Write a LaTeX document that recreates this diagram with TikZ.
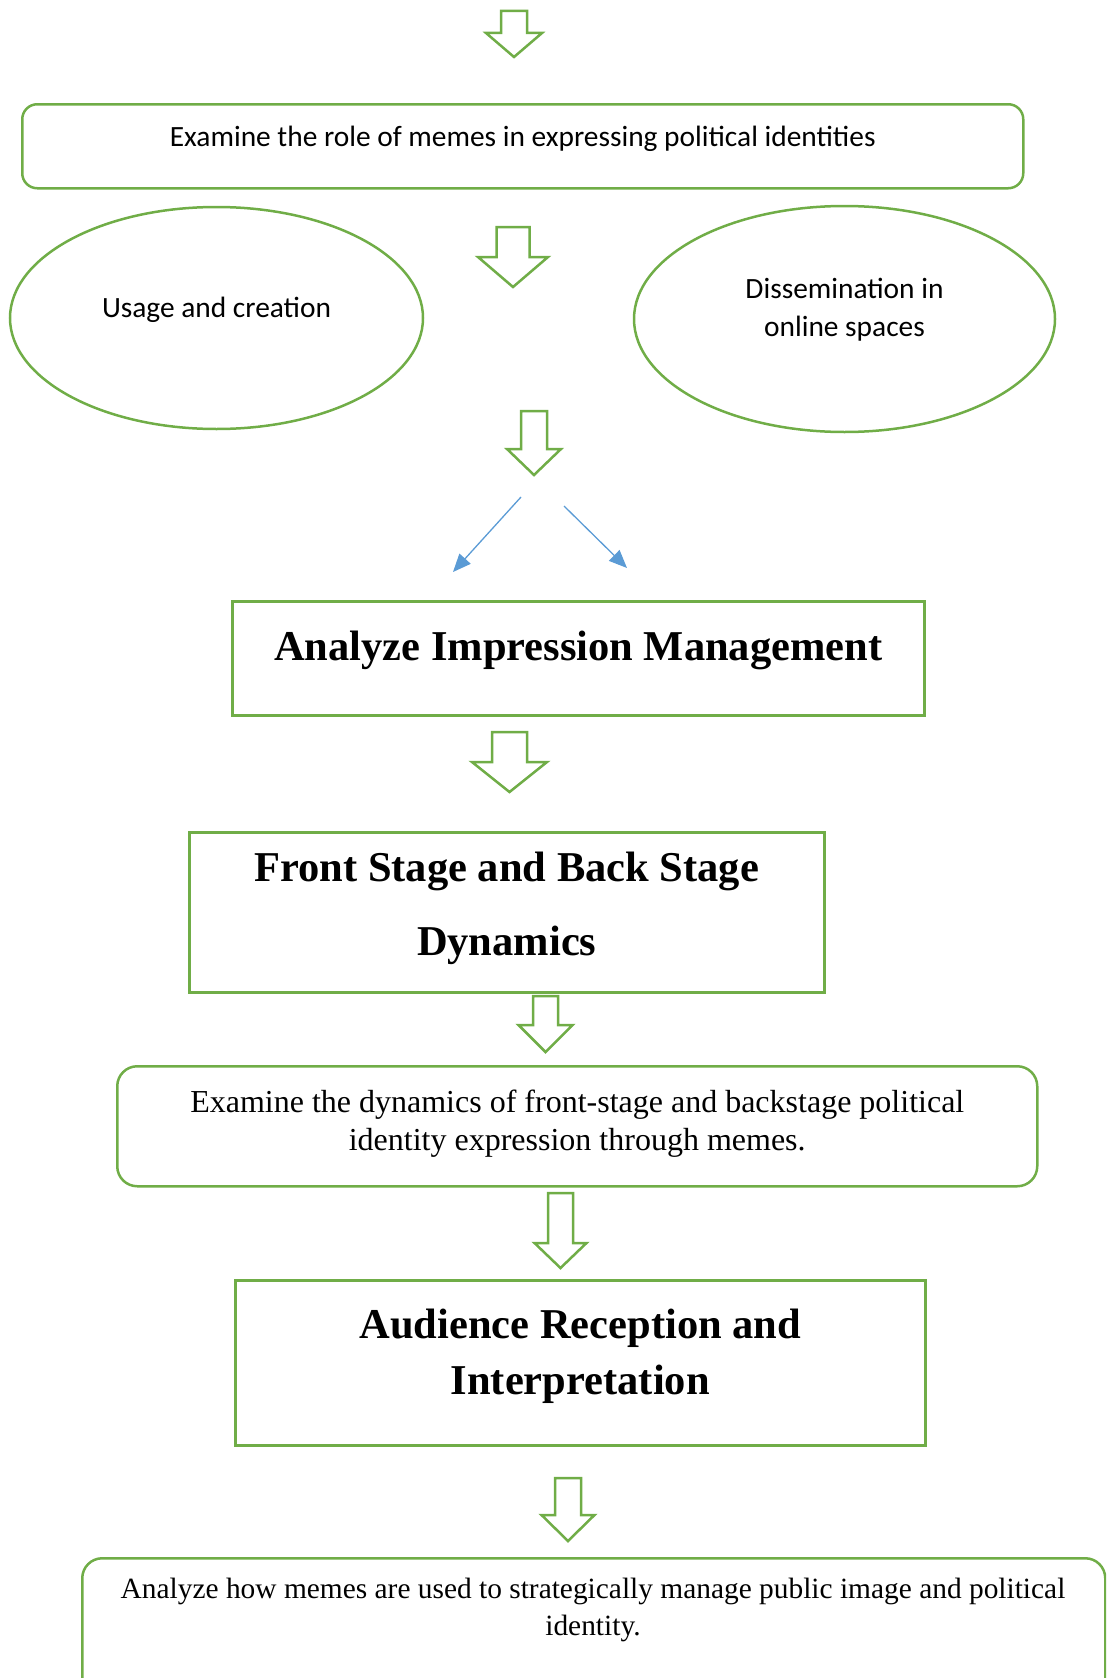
\documentclass[tikz,border=0pt]{standalone}
\usepackage{fontspec}
\setmainfont{Liberation Serif}
\newfontfamily\calibrifont{Carlito}
\usetikzlibrary{shapes.geometric,arrows.meta}
\definecolor{officegreen}{HTML}{70AD47}
\definecolor{officeblue}{HTML}{5B9BD5}

\tikzset{
    % hollow block arrow pointing down: length/half shaft/half head/head length
    pics/blockdown/.style args={#1/#2/#3/#4}{code={
        \draw[outline, fill=white] ({-#2},0) -- ({#2},0) -- ({#2},{#1-#4}) -- ({#3},{#1-#4})
            -- (0,{#1}) -- ({-#3},{#1-#4}) -- ({-#2},{#1-#4}) -- cycle;
    }}
}

\begin{document}
\begin{tikzpicture}[x=1pt, y=-1pt,
    outline/.style={draw=officegreen, line width=2.5pt},
    roundbox/.style={outline, anchor=north west, inner sep=0pt},
    plainbox/.style={outline, anchor=north west, inner sep=0pt},
    oval/.style={outline, ellipse, inner sep=0pt},
    thinarrow/.style={draw=officeblue, line width=1.3pt, -{Triangle[length=18pt, width=15pt]}},
    calibri/.style={font=\calibrifont\fontsize{29.4}{38}\selectfont},
    times/.style={font=\fontsize{32}{38}\selectfont},
    heading/.style={font=\bfseries\fontsize{42.5}{56}\selectfont}
]
    \useasboundingbox (0,0) rectangle (1106,1678);
    \clip (0,0) rectangle (1106,1678);

    % Arrow into the first box
    \pic (arrA) at (514,11) {blockdown=46/13/28/24};

    % Main aim
    \node[roundbox, rounded corners=15pt, minimum width=1001pt, minimum height=84pt]
        (aim) at (21,103) {};
    \node[calibri] (aimtext) at ([yshift=7pt]aim.center)
        {Examine the role of memes in expressing political identities};

    % Two sides
    \node[oval, minimum width=413pt, minimum height=222pt] (usage) at (216.5,318) {};
    \node[calibri] (usagetext) at ([yshift=8pt]usage.center) {Usage and creation};
    \node[oval, minimum width=421pt, minimum height=226pt] (spread) at (844.5,319) {};
    \node[calibri, align=center] (spreadtext) at ([yshift=9pt]spread.center)
        {Dissemination in\\online spaces};
    \pic (arrB) at (513,227) {blockdown=60/16.5/35/30};

    % Split towards the analysis
    \pic (arrC) at (534,411) {blockdown=64/13/27/26};
    \coordinate (splitL) at (521,497);
    \coordinate (endL) at (453,572);
    \coordinate (splitR) at (564,506);
    \coordinate (endR) at (627,568);
    \draw[thinarrow] (splitL) -- (endL);
    \draw[thinarrow] (splitR) -- (endR);

    % Impression management
    \node[plainbox, minimum width=692pt, minimum height=114pt] (impression) at (231,600) {};
    \node[heading] (impressiontext) at ([yshift=8pt]impression.center)
        {Analyze Impression Management};
    \pic (arrD) at (509.5,732) {blockdown=60/17.5/37.5/30};

    % Front and back stage
    \node[plainbox, minimum width=635pt, minimum height=160pt] (stage) at (188,831) {};
    \node[align=center, font=\bfseries\fontsize{42.5}{74}\selectfont] (stagetext)
        at ([yshift=4pt]stage.center) {Front Stage and Back Stage\\Dynamics};
    \pic (arrE) at (545.5,996) {blockdown=56/12.5/27/27};

    \node[roundbox, rounded corners=20pt, minimum width=920pt, minimum height=120pt]
        (dynamics) at (116,1065) {};
    \node[times, align=center] (dynamicstext) at ([yshift=3pt]dynamics.center)
        {Examine the dynamics of front-stage and backstage political\\identity expression through memes.};
    \pic (arrF) at (560.5,1193) {blockdown=75/12.5/26/25};

    % Audience
    \node[plainbox, minimum width=690pt, minimum height=165pt] (audience) at (234,1279) {};
    \node[heading, align=center] (audiencetext) at ([yshift=6pt]audience.center)
        {Audience Reception and\\Interpretation};
    \pic (arrG) at (568,1478) {blockdown=63/13/26.5/26};

    % Last box runs past the page
    \node[roundbox, rounded corners=20pt, minimum width=1023pt, minimum height=200pt]
        (strategy) at (81,1557) {};
    \node[align=center, font=\fontsize{29.4}{37}\selectfont] (strategytext) at (593,1610)
        {Analyze how memes are used to strategically manage public image and political\\identity.};
\end{tikzpicture}
\end{document}
